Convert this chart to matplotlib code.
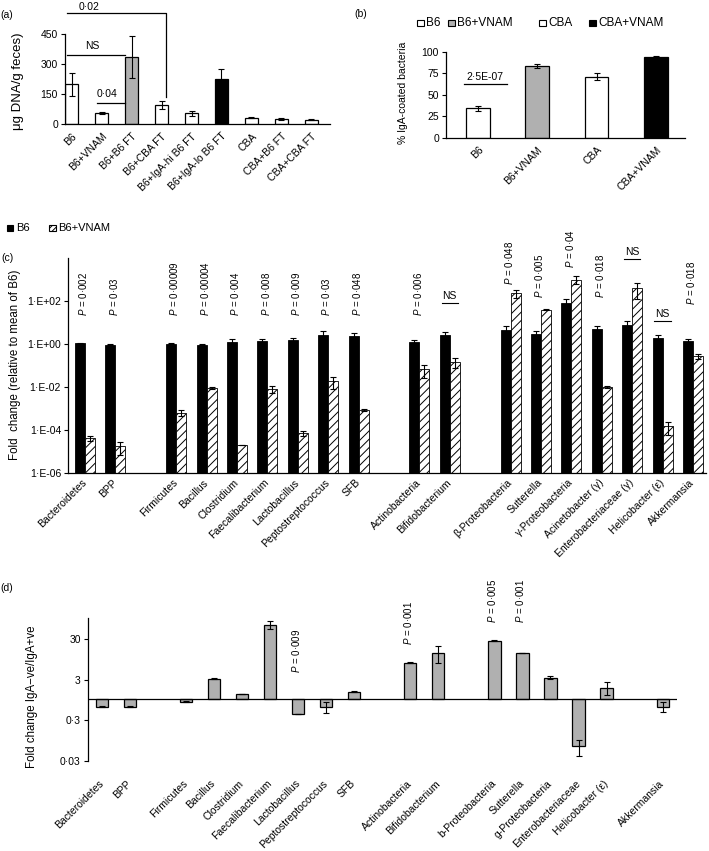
import numpy as np
import matplotlib
matplotlib.use("Agg")
import matplotlib.pyplot as plt
from matplotlib.patches import Rectangle
from matplotlib.ticker import NullLocator

plt.rcParams["font.family"] = "Liberation Sans"
plt.rcParams["mathtext.fontset"] = "custom"
plt.rcParams["mathtext.it"] = "Liberation Sans:italic"
plt.rcParams["mathtext.rm"] = "Liberation Sans"
plt.rcParams["hatch.linewidth"] = 0.7
plt.rcParams["axes.linewidth"] = 0.9

# (a) bacterial DNA in feces
a_groups = ["B6", "B6+VNAM", "B6+B6 FT", "B6+CBA FT", "B6+IgA-hi B6 FT",
            "B6+IgA-lo B6 FT", "CBA", "CBA+B6 FT", "CBA+CBA FT"]
a_dna = [199, 55, 333, 96, 55, 227, 33, 26, 23]
a_err = [58, 6, 105, 22, 12, 50, 4, 3, 2]

# (b) IgA-coated bacteria
b_groups = ["B6", "B6+VNAM", "CBA", "CBA+VNAM"]
b_coated = [34, 83, 71, 94]
b_err = [3, 2.5, 4, 0.5]

# (c) fold change relative to B6
c_taxa = ["Bacteroidetes", "BPP", "Firmicutes", "Bacillus", "Clostridium",
          "Faecalibacterium", "Lactobacillus", "Peptostreptococcus", "SFB",
          "Actinobacteria", "Bifidobacterium", "β-Proteobacteria", "Sutterella",
          "γ-Proteobacteria", "Acinetobacter (γ)", "Enterobacteriaceae (γ)",
          "Helicobacter (ε)", "Akkermansia"]
c_b6 = [1.1, 0.95, 1.05, 0.95, 1.3, 1.45, 1.5, 2.7, 2.3, 1.3, 2.6, 4.7, 2.9,
        83, 5.2, 7.4, 2.0, 1.4]
c_b6_err = [0.08, 0.05, 0.07, 0.05, 0.35, 0.35, 0.35, 1.2, 1.1, 0.2, 1.0, 2.0,
            1.2, 50, 1.5, 4.5, 0.6, 0.25]
c_vnam = [4.0e-5, 1.7e-5, 6.3e-4, 9.3e-3, 1.9e-5, 8.1e-3, 7.2e-5, 0.018,
          8.3e-4, 0.067, 0.15, 245, 40, 1020, 0.01, 420, 1.5e-4, 0.28]
c_vnam_err = [1.0e-5, 1.0e-5, 2.0e-4, 1.0e-3, 0, 3.0e-3, 2.0e-5, 0.01, 1.0e-4,
              0.04, 0.07, 100, 3, 400, 0.001, 300, 0.9e-4, 0.08]
c_pvals = ["0·002", "0·03", "0·00009", "0·00004", "0·004", "0·008", "0·009",
           "0·03", "0·048", "0·006", "NS", "0·048", "0·005", "0·04", "0·018",
           "NS", "NS", "0·018"]

# (d) fold change IgA-ve / IgA+ve
d_taxa = ["Bacteroidetes", "BPP", "Firmicutes", "Bacillus", "Clostridium",
          "Faecalibacterium", "Lactobacillus", "Peptostreptococcus", "SFB",
          "Actinobacteria", "Bifidobacterium", "b-Proteobacteria", "Sutterella",
          "g-Proteobacteria", "Enterobacteriaceae", "Helicobacter (ε)",
          "Akkermansia"]
d_ratio = [0.66, 0.66, 0.87, 3.2, 1.35, 68, 0.43, 0.65, 1.54, 8.0, 14, 27.5,
           13.7, 3.4, 0.07, 1.93, 0.66]
d_err = [0.02, 0.02, 0.02, 0.05, 0.03, 15, 0.01, 0.2, 0.05, 0.3, 6, 0.8, 0.3,
         0.3, 0.03, 0.65, 0.18]
d_pvals = {"Lactobacillus": "0·009", "Actinobacteria": "0·001",
           "b-Proteobacteria": "0·005", "Sutterella": "0·001"}

# layout
c_slots = [0, 1, 3, 4, 5, 6, 7, 8, 9, 11, 12, 14, 15, 16, 17, 18, 19, 20]
c_note_y = [19.5] * 9 + [19.5, 80, 590, 145, 3600, 145, 9500, 12, 68]
d_slots = [0, 1, 3, 4, 5, 6, 7, 8, 9, 11, 12, 14, 15, 16, 17, 18, 20]
d_note_y = {"Lactobacillus": 4.4, "Actinobacteria": 22,
            "b-Proteobacteria": 75, "Sutterella": 75}

W, H = 709, 851
fig = plt.figure(figsize=(W / 100, H / 100), dpi=100)
FS = 7.5
GRAY = "#b0b0b0"


def px_axes(left, top, right, bottom):
    return fig.add_axes([left / W, 1 - bottom / H, (right - left) / W, (bottom - top) / H])


def ftext(x, y, s, **kw):
    fig.text(x / W, 1 - y / H, s, **kw)


def legend_box(x, y, face, label, hatch=None, size=6.5, fs=8.5):
    fig.add_artist(Rectangle((x / W, 1 - (y + size / 2) / H), size / W, size / H,
                             transform=fig.transFigure, facecolor=face,
                             edgecolor="black", lw=0.8, hatch=hatch))
    ftext(x + size + 3, y, label, fontsize=fs, va="center")


def style(ax):
    for s in ["top", "right"]:
        ax.spines[s].set_visible(False)
    ax.tick_params(axis="y", direction="out", length=3, width=0.8, labelsize=FS, pad=2)
    ax.tick_params(axis="x", length=0, labelsize=FS)


errkw = dict(fmt="none", ecolor="black", elinewidth=0.8, capsize=2.5, capthick=0.8)

# ---------------- (a)
ax = px_axes(65, 33.7, 330, 124.3)
xa = np.arange(len(a_groups))
a_colors = ["white", "white", GRAY, "white", "white", "black", "white", "white", "white"]
ax.bar(xa, a_dna, 0.43, color=a_colors, edgecolor="black", lw=0.9)
ax.errorbar(xa, a_dna, yerr=a_err, **errkw)
ax.set_xlim(-0.22, 8.62)
ax.set_ylim(0, 450)
ax.set_yticks([0, 150, 300, 450])
style(ax)
ax.set_xticks(xa, a_groups, rotation=45, ha="right", va="top", rotation_mode="anchor")
ax.tick_params(axis="x", pad=5)
ln = dict(color="black", lw=0.9, clip_on=False)
ax.plot([-0.15, 3.15, 3.15], [553, 553, 135], **ln)
ax.plot([-0.15, 1.79], [344, 344], **ln)
ax.plot([0.85, 1.79], [106, 106], **ln)
ax.text(0.58, 560, "0·02", fontsize=FS, ha="center", va="bottom")
ax.text(0.7, 365, "NS", fontsize=FS, ha="center", va="bottom")
ax.text(1.17, 125, "0·04", fontsize=FS, ha="center", va="bottom")
ftext(18, 81, "μg DNA/g feces)", fontsize=9.5, rotation=90, ha="center", va="center")
ftext(7, 15, "(a)", fontsize=FS, ha="center", va="center")

# ---------------- (b)
ax = px_axes(446, 51.7, 685, 137.7)
xb = np.arange(len(b_groups))
b_colors = ["white", GRAY, "white", "black"]
ax.bar(xb, b_coated, 0.4, color=b_colors, edgecolor="black", lw=0.9)
ax.errorbar(xb, b_coated, yerr=b_err, **errkw)
ax.set_xlim(-0.54, 3.49)
ax.set_ylim(0, 100)
ax.set_yticks([0, 25, 50, 75, 100])
style(ax)
ax.set_xticks(xb, b_groups, rotation=45, ha="right", va="top", rotation_mode="anchor")
ax.tick_params(axis="x", pad=5)
ax.plot([-0.24, 0.49], [62.5, 62.5], color="black", lw=0.9)
ax.text(0.12, 65, "2·5E-07", fontsize=FS, ha="center", va="bottom")
ftext(403, 93, "% IgA-coated bacteria", fontsize=FS, rotation=90, ha="center", va="center")
ftext(361, 14, "(b)", fontsize=FS, ha="center", va="center")
for x0, c, lab in [(417, "white", "B6"), (448, GRAY, "B6+VNAM"),
                   (539, "white", "CBA"), (589, "black", "CBA+VNAM")]:
    legend_box(x0, 23, c, lab)

# ---------------- (c)
ax = px_axes(68, 258.3, 706, 472.7)
xc = np.array(c_slots)
ax.bar(xc - 0.165, c_b6, 0.33, bottom=1e-6, color="black", edgecolor="black", lw=0.6)
ax.bar(xc + 0.165, c_vnam, 0.33, bottom=1e-6, color="white", edgecolor="black",
       lw=0.6, hatch="////")
v = np.array(c_b6); e = np.array(c_b6_err)
ax.errorbar(xc - 0.165, v, yerr=[np.minimum(e, v * 0.95), e], **errkw)
v = np.array(c_vnam); e = np.array(c_vnam_err)
ax.errorbar(xc + 0.165, v, yerr=[np.minimum(e, v * 0.95), e], **errkw)
ax.set_yscale("log")
ax.set_ylim(1e-6, 1e4)
ax.set_xlim(-0.56, 20.43)
ax.set_yticks([1e-6, 1e-4, 1e-2, 1, 100], ["1·E-06", "1·E-04", "1·E-02", "1·E+00", "1·E+02"])
ax.yaxis.set_minor_locator(NullLocator())
style(ax)
ax.set_xticks(xc, c_taxa, rotation=45, ha="right", va="center", rotation_mode="anchor")
ax.tick_params(axis="x", pad=6)
for x0, p, y0 in zip(c_slots, c_pvals, c_note_y):
    if p == "NS":
        ax.plot([x0 - 0.27, x0 + 0.27], [y0, y0], color="black", lw=0.8, clip_on=False)
        ax.text(x0, y0 * 1.25, "NS", fontsize=FS, ha="center", va="bottom", clip_on=False)
    else:
        ax.text(x0 - 0.06, y0, f"$P$ = {p}", fontsize=7, rotation=90,
                ha="center", va="bottom", clip_on=False)
ftext(15, 365, "Fold  change (relative to mean of B6)", fontsize=8.3, rotation=90,
      ha="center", va="center")
ftext(7, 258, "(c)", fontsize=FS, ha="center", va="center")
legend_box(7, 228, "black", "B6", fs=8)
legend_box(49, 228, "white", "B6+VNAM", hatch="//////", fs=8)

# ---------------- (d)
ax = px_axes(87.7, 618, 676.7, 761)
xd = np.array(d_slots)
dv = np.array(d_ratio)
ax.bar(xd, dv - 1, 0.44, bottom=1, color=GRAY, edgecolor="black", lw=0.9)
de = np.array(d_err)
ax.errorbar(xd, dv, yerr=[np.minimum(de, dv * 0.95), de], **errkw)
ax.set_yscale("log")
ax.set_ylim(0.03, 100)
ax.set_xlim(-0.5, 20.5)
ax.set_yticks([0.03, 0.3, 3, 30], ["0·03", "0·3", "3", "30"])
ax.yaxis.set_minor_locator(NullLocator())
style(ax)
ax.spines["bottom"].set_visible(False)
ax.axhline(1, color="black", lw=0.9)
ax.set_xticks(xd, d_taxa, rotation=45, ha="right", va="center", rotation_mode="anchor")
ax.tick_params(axis="x", pad=15)
for name, p in d_pvals.items():
    x0 = d_slots[d_taxa.index(name)]
    ax.text(x0 - 0.07, d_note_y[name], f"$P$ = {p}", fontsize=7, rotation=90,
            ha="center", va="bottom")
ftext(32, 697, "Fold change IgA\u2212ve/IgA+ve", fontsize=8.3, rotation=90,
      ha="center", va="center")
ftext(7, 588, "(d)", fontsize=FS, ha="center", va="center")

fig.savefig("out.png", dpi=100)
